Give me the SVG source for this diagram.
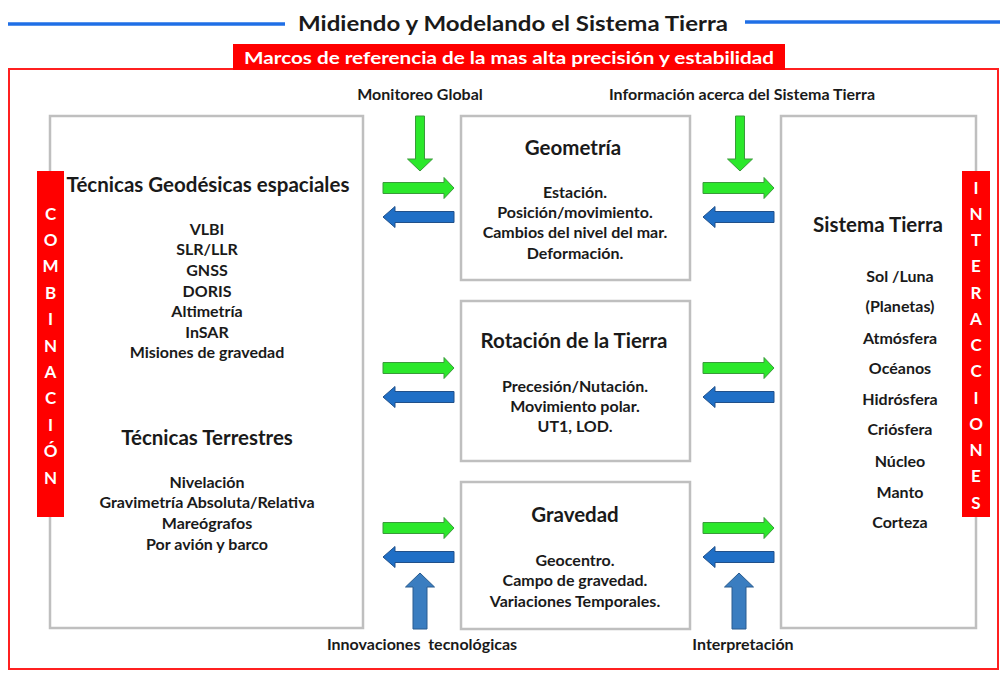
<svg xmlns="http://www.w3.org/2000/svg" width="1000" height="691" viewBox="0 0 1000 691">
<style>
text{font-family:Lato,"Open Sans","Liberation Sans",sans-serif;font-weight:bold;fill:#1a1a1a;text-anchor:middle;dominant-baseline:central}
.box{fill:#fff;stroke:#bfbfbf;stroke-width:2.5}
.h{font-size:20.5px}
.i{font-size:16px}
.lbl{font-size:16px}
.bar{fill:#ff0000}
.bl{fill:#fff;font-size:17px}
.g{fill:#2be82b;stroke:#3a9a3a;stroke-width:1}
.b{fill:#1f6fc6;stroke:#20508a;stroke-width:1}
.u{fill:#3a7dc0;stroke:#2a5d90;stroke-width:1}
</style>
<defs>
<path id="gr" d="M0,-5.5 H61 V-10.5 L71,0 L61,10.5 V5.5 H0 Z"/>
<path id="bl" d="M71,-5.5 H12 V-10.5 L0,0 L12,10.5 V5.5 H71 Z"/>
<path id="gd" d="M-4.5,0 H4.5 V43 H12.5 L0,55 L-12.5,43 H-4.5 Z"/>
<path id="bu" d="M-7,0 V-42 H-14.5 L0,-56 L14.5,-42 H7 V0 Z"/>
</defs>
<rect width="1000" height="691" fill="#fff"/>
<g id="title">
<line x1="8" y1="24" x2="285" y2="24" stroke="#1f6fe6" stroke-width="3.5"/>
<line x1="745" y1="22" x2="1000" y2="22" stroke="#1f6fe6" stroke-width="3.5"/>
<text x="513" y="22" style="font-size:21px" textLength="430" lengthAdjust="spacingAndGlyphs">Midiendo y Modelando el Sistema Tierra</text>
</g>
<g id="frame">
<rect x="9" y="69" width="989" height="600" fill="none" stroke="#ff2020" stroke-width="2"/>
<rect x="233" y="44" width="552" height="26" class="bar"/>
<text x="509" y="57" class="bl" textLength="530" lengthAdjust="spacingAndGlyphs">Marcos de referencia de la mas alta precisión y estabilidad</text>
</g>
<g id="tecnicas">
<rect x="50" y="116" width="313" height="512" class="box"/>
<text x="208" y="184" class="h">Técnicas Geodésicas espaciales</text>
<text x="207" y="228" class="i">VLBI</text>
<text x="207" y="248" class="i">SLR/LLR</text>
<text x="207" y="269" class="i">GNSS</text>
<text x="207" y="290" class="i">DORIS</text>
<text x="207" y="310" class="i">Altimetría</text>
<text x="207" y="331" class="i">InSAR</text>
<text x="207" y="351" class="i">Misiones de gravedad</text>
<text x="207" y="437" class="h">Técnicas Terrestres</text>
<text x="207" y="481" class="i">Nivelación</text>
<text x="207" y="501" class="i">Gravimetría Absoluta/Relativa</text>
<text x="207" y="522" class="i">Mareógrafos</text>
<text x="207" y="543" class="i">Por avión y barco</text>
</g>
<g id="combinacion">
<rect x="37" y="171" width="27" height="346" class="bar"/>
<text x="50.5" y="213" class="bl">C</text>
<text x="50.5" y="239.4" class="bl">O</text>
<text x="50.5" y="265.8" class="bl">M</text>
<text x="50.5" y="292.2" class="bl">B</text>
<text x="50.5" y="318.6" class="bl">I</text>
<text x="50.5" y="345" class="bl">N</text>
<text x="50.5" y="371.4" class="bl">A</text>
<text x="50.5" y="397.8" class="bl">C</text>
<text x="50.5" y="424.2" class="bl">I</text>
<text x="50.5" y="450.6" class="bl">Ó</text>
<text x="50.5" y="477" class="bl">N</text>
</g>
<g id="geometria">
<rect x="461" y="116" width="229" height="164" class="box"/>
<text x="573" y="147" class="h">Geometría</text>
<text x="575" y="191" class="i">Estación.</text>
<text x="575" y="211" class="i">Posición/movimiento.</text>
<text x="575" y="231" class="i">Cambios del nivel del mar.</text>
<text x="575" y="252" class="i">Deformación.</text>
</g>
<g id="rotacion">
<rect x="461" y="301" width="229" height="160" class="box"/>
<text x="574" y="340" class="h">Rotación de la Tierra</text>
<text x="575" y="385" class="i">Precesión/Nutación.</text>
<text x="575" y="405" class="i">Movimiento polar.</text>
<text x="575" y="425" class="i">UT1, LOD.</text>
</g>
<g id="gravedad">
<rect x="461" y="482" width="229" height="147" class="box"/>
<text x="575" y="514" class="h">Gravedad</text>
<text x="575" y="559" class="i">Geocentro.</text>
<text x="575" y="579" class="i">Campo de gravedad.</text>
<text x="575" y="600" class="i">Variaciones Temporales.</text>
</g>
<g id="sistema">
<rect x="781" y="116" width="195" height="512" class="box"/>
<text x="878" y="224" class="h">Sistema Tierra</text>
<text x="900" y="275" class="i">Sol /Luna</text>
<text x="900" y="305" class="i">(Planetas)</text>
<text x="900" y="337" class="i">Atmósfera</text>
<text x="900" y="367" class="i">Océanos</text>
<text x="900" y="398" class="i">Hidrósfera</text>
<text x="900" y="428" class="i">Criósfera</text>
<text x="900" y="460" class="i">Núcleo</text>
<text x="900" y="491" class="i">Manto</text>
<text x="900" y="521" class="i">Corteza</text>
</g>
<g id="interacciones">
<rect x="962" y="171" width="28" height="346" class="bar"/>
<text x="976" y="187" class="bl">I</text>
<text x="976" y="213.25" class="bl">N</text>
<text x="976" y="239.5" class="bl">T</text>
<text x="976" y="265.75" class="bl">E</text>
<text x="976" y="292" class="bl">R</text>
<text x="976" y="318.25" class="bl">A</text>
<text x="976" y="344.5" class="bl">C</text>
<text x="976" y="370.75" class="bl">C</text>
<text x="976" y="397" class="bl">I</text>
<text x="976" y="423.25" class="bl">O</text>
<text x="976" y="449.5" class="bl">N</text>
<text x="976" y="475.75" class="bl">E</text>
<text x="976" y="502" class="bl">S</text>
</g>
<g id="labels">
<text x="420" y="93" class="lbl">Monitoreo Global</text>
<text x="742" y="93" class="lbl">Información acerca del Sistema Tierra</text>
<text x="422" y="643" class="lbl" xml:space="preserve">Innovaciones  tecnológicas</text>
<text x="743" y="643" class="lbl">Interpretación</text>
</g>
<g id="connectors">
<use href="#gd" x="420" y="116" class="g"/>
<use href="#gd" x="740" y="116" class="g"/>
<use href="#gr" x="383" y="188" class="g"/>
<use href="#bl" x="383" y="217" class="b"/>
<use href="#gr" x="703" y="188" class="g"/>
<use href="#bl" x="703" y="217" class="b"/>
<use href="#gr" x="383" y="368" class="g"/>
<use href="#bl" x="383" y="397" class="b"/>
<use href="#gr" x="703" y="368" class="g"/>
<use href="#bl" x="703" y="397" class="b"/>
<use href="#gr" x="383" y="528" class="g"/>
<use href="#bl" x="383" y="557" class="b"/>
<use href="#gr" x="703" y="528" class="g"/>
<use href="#bl" x="703" y="557" class="b"/>
<use href="#bu" x="420" y="629" class="u"/>
<use href="#bu" x="739" y="629" class="u"/>
</g>
</svg>
